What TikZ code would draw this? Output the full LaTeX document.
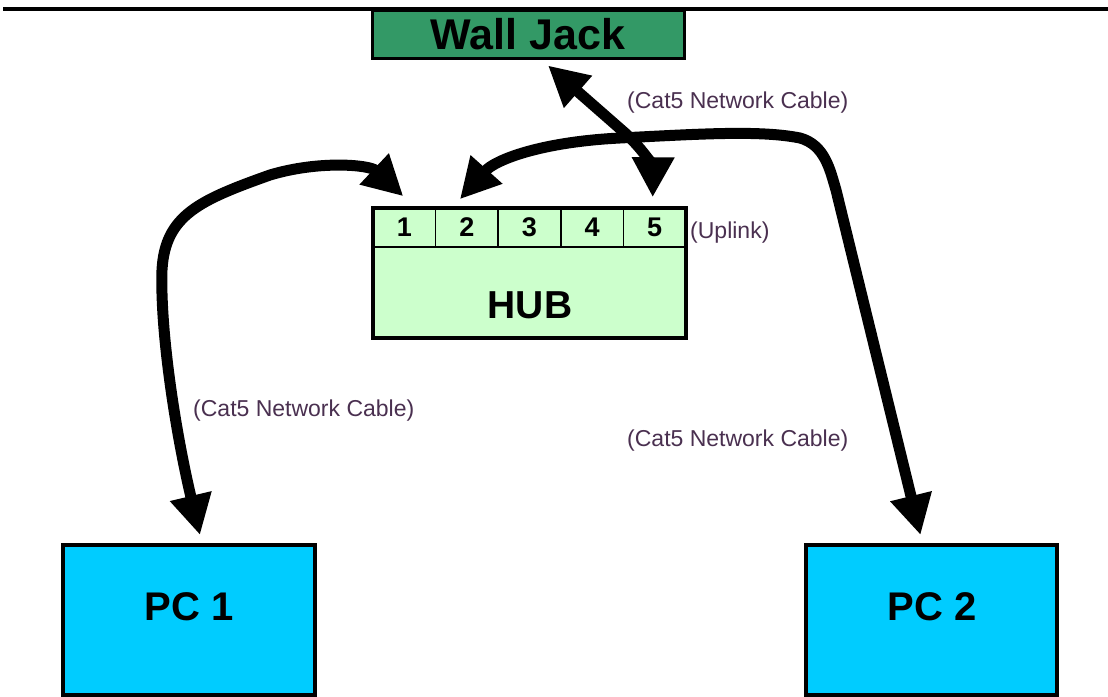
\documentclass[tikz,border=0pt]{standalone}
\usepackage{fontspec}
\setmainfont{Liberation Sans}
\usetikzlibrary{arrows.meta}
\definecolor{jackgreen}{HTML}{339966}
\definecolor{hubgreen}{HTML}{CCFFCC}
\definecolor{pcblue}{HTML}{00CCFF}
\definecolor{labelcol}{HTML}{4A3050}
\begin{document}
\begin{tikzpicture}[x=1pt,y=-1pt,
  box/.style={draw=black,line width=4pt,inner sep=0pt},
  port/.style={draw=black,line width=1.5pt,minimum width=62.6pt,minimum height=39pt,inner sep=0pt,font=\fontsize{27}{27}\selectfont\bfseries},
  bigtext/.style={inner sep=0pt,font=\fontsize{#1}{#1}\selectfont\bfseries},
  cablelabel/.style={text=labelcol,font=\fontsize{23}{23}\selectfont,inner sep=0pt,anchor=west},
  cable/.style={line width=11pt,{Triangle[length=40pt,width=40pt]}-{Triangle[length=40pt,width=40pt]}}]
\useasboundingbox (0,0) rectangle (1108,696);
\fill[white] (0,0) rectangle (1108,696);
% top wall line
\draw[line width=4pt] (3,9) -- (1108,9);
% wall jack
\node[box,fill=jackgreen,line width=3pt,minimum width=312pt,minimum height=48pt,font=\fontsize{43}{43}\selectfont\bfseries] (wj) at (528,34) {Wall Jack};
% hub
\node[box,fill=hubgreen,minimum width=313pt,minimum height=130pt] (hub) at (529.5,273) {};
\foreach \i in {1,...,5}
  \node[port] (p\i) at ({373+62.6*(\i-0.5)},227.5) {\i};
\node[bigtext=39] (hubname) at (530,305) {HUB};
\node[cablelabel] (uplink) at (690,233) {(Uplink)};
% PCs
\node[box,fill=pcblue,minimum width=252pt,minimum height=150pt] (pc1) at (189,620) {};
\node[bigtext=40] (pc1name) at (189,607) {PC 1};
\node[box,fill=pcblue,minimum width=251pt,minimum height=150pt] (pc2) at (931.5,620) {};
\node[bigtext=40] (pc2name) at (932,607) {PC 2};
% cables
\draw[cable] ([shift={(20,6)}]wj.south) -- (625,133) .. controls (647,153) and (653,170) .. ([shift={(-2,-10)}]p5.north);
\draw[cable] ([shift={(-7,-8)}]p2.north) .. controls (495,160) and (540,142) .. (620,138)
  .. controls (700,134) and (760,130) .. (800,138)
  .. controls (825,145) and (830,170) .. (836,190) -- ([shift={(-11,-8)}]pc2.north);
\draw[cable] ([shift={(11,-8)}]pc1.north) .. controls (175,430) and (160,330) .. (162,270)
  .. controls (165,215) and (200,200) .. (270,175)
  .. controls (320,160) and (370,165) .. ([shift={(-1,-11)}]p1.north);
% labels
\node[cablelabel] (lab1) at (627,103) {(Cat5 Network Cable)};
\node[cablelabel] (lab2) at (193,411) {(Cat5 Network Cable)};
\node[cablelabel] (lab3) at (627,441) {(Cat5 Network Cable)};
\end{tikzpicture}
\end{document}
